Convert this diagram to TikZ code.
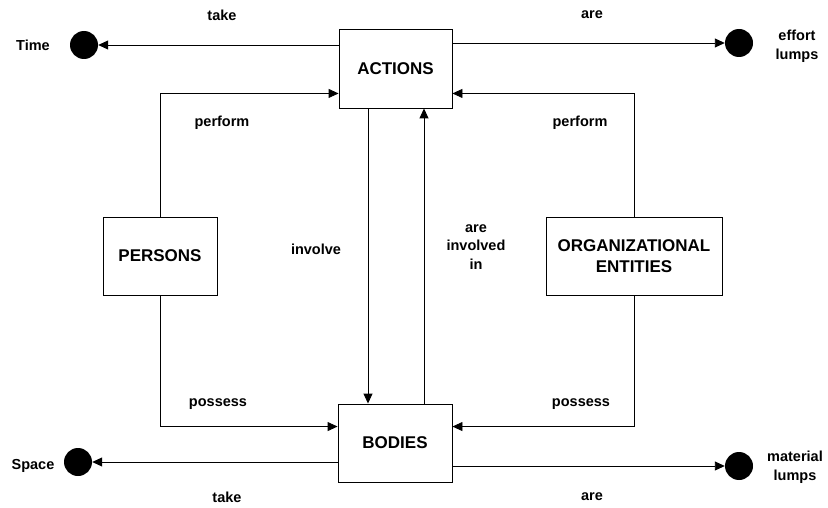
\documentclass[tikz,border=0pt]{standalone}
\usepackage{fontspec}
\setmainfont{Liberation Sans}
\usetikzlibrary{arrows.meta}
\begin{document}
\begin{tikzpicture}[x=1pt,y=-1pt,
  box/.style={draw=black,line width=0.9pt,rectangle,minimum width=#1,minimum height=78pt,inner sep=0pt,align=center,font=\fontsize{17}{21}\selectfont\bfseries},
  box/.default=114pt,
  dot/.style={circle,fill=black,minimum size=28pt,inner sep=0pt},
  lbl/.style={inner sep=0pt,align=center,font=\fontsize{14.5}{18.5}\selectfont\bfseries},
  conn/.style={line width=0.9pt,-{Triangle[length=10pt,width=9pt]}},
  plain/.style={line width=0.9pt}]
\useasboundingbox (0,0) rectangle (828,508);
\node[box=113pt,minimum height=79pt] (actions) at (395.5,68.5) {ACTIONS};
\node[box] (bodies) at (395,443) {BODIES};
\node[box] (persons) at (160,256) {PERSONS};
\node[box=176pt] (org) at (634,256) {ORGANIZATIONAL\\ENTITIES};
\node[dot] (time) at (84,45) {};
\node[dot] (effort) at (739,43) {};
\node[dot] (space) at (78,462) {};
\node[dot] (material) at (739,466) {};
% connectors
\draw[conn] (actions.west |- time) -- (time);
\draw[conn] (actions.east |- effort) -- (effort);
\draw[conn] (bodies.west |- space) -- (space);
\draw[conn] (bodies.east |- material) -- (material);
\draw[conn] (persons.north) |- ([yshift=15pt]actions.south west);
\draw[conn] (org.north) |- ([yshift=15pt]actions.south east);
\draw[conn] (persons.south) |- ([yshift=-23pt]bodies.north west);
\draw[conn] (org.south) |- ([yshift=-23pt]bodies.north east);
\draw[conn] ([xshift=-27.5pt]actions.south) -- ([xshift=-27pt]bodies.north);
\draw[conn] ([xshift=29pt]bodies.north) -- ([xshift=28.5pt]actions.south);
% labels
\node[lbl] (l1) at (222,15) {take};
\node[lbl] (l2) at (592,15) {are};
\node[lbl] (l3) at (33,45) {Time};
\node[lbl] (l4) at (797,46.5) {effort\\lumps};
\node[lbl] (l5) at (222,123) {perform};
\node[lbl] (l6) at (580,123) {perform};
\node[lbl] (l7) at (316,249) {involve};
\node[lbl] (l8) at (476,247) {are\\involved\\in};
\node[lbl] (l9) at (218,404) {possess};
\node[lbl] (l10) at (581,404) {possess};
\node[lbl] (l11) at (33,466) {Space};
\node[lbl] (l12) at (227,497) {take};
\node[lbl] (l13) at (592,497) {are};
\node[lbl] (l14) at (795,467) {material\\lumps};
\end{tikzpicture}
\end{document}
